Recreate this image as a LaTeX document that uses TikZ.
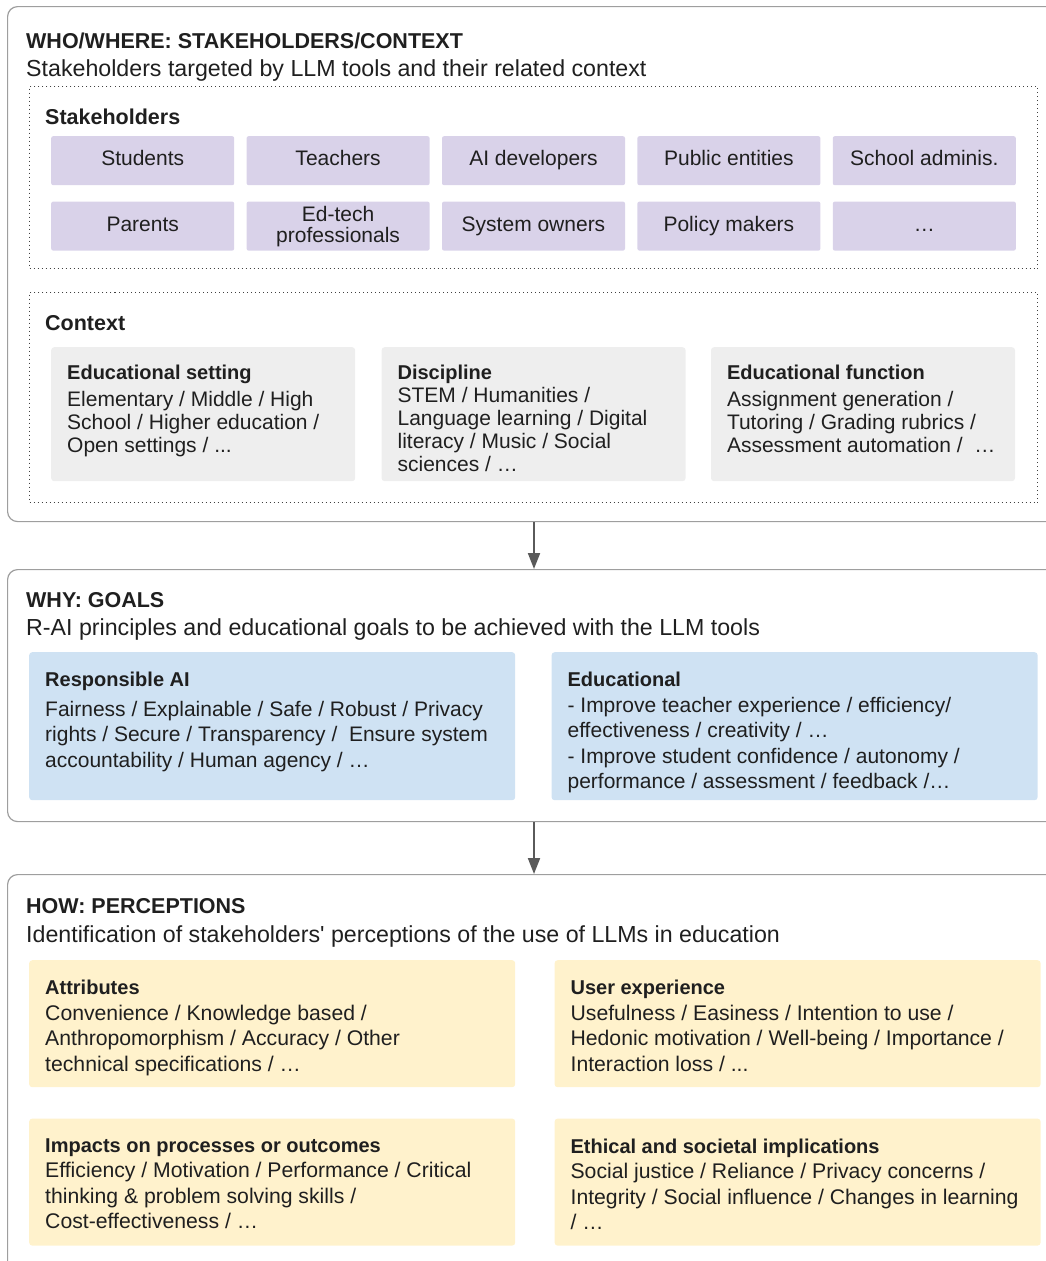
\documentclass[tikz,border=0pt]{standalone}
\usepackage{fontspec}
\setmainfont{Liberation Sans}
\usetikzlibrary{positioning,arrows.meta}
\definecolor{stkpurple}{HTML}{D9D2E9}
\definecolor{ctxgray}{HTML}{EEEEEE}
\definecolor{goalblue}{HTML}{CFE2F3}
\definecolor{percyellow}{HTML}{FFF2CC}
\definecolor{framegray}{HTML}{9E9E9E}
\definecolor{arrowgray}{HTML}{5A5A5A}
\definecolor{inkblack}{HTML}{1F1F1F}
\newcommand{\BoxTitle}[1]{{\fontsize{20}{24}\selectfont\bfseries #1}}

\begin{document}
\begin{tikzpicture}[
    x=1pt, y=-1pt,
    every node/.style={text=inkblack},
    Frame/.style={
        draw=framegray,
        line width=1.2pt,
        rounded corners=10pt,
        anchor=north west,
        inner sep=0pt,
        minimum width=1058pt
    },
    Area/.style={
        draw=black!75,
        line width=1pt,
        dash pattern=on 1pt off 3pt,
        anchor=north west,
        inner sep=0pt,
        minimum width=1008pt
    },
    Head/.style={
        anchor=base west,
        inner sep=0pt,
        font=\fontsize{21.5}{25}\selectfont\bfseries
    },
    Sub/.style={
        anchor=base west,
        inner sep=0pt,
        font=\fontsize{23.2}{25}\selectfont
    },
    SBox/.style={
        fill=stkpurple,
        rounded corners=2pt,
        minimum width=183pt,
        minimum height=49pt,
        inner sep=2pt,
        text height=15pt,
        text depth=5pt,
        align=center,
        font=\fontsize{21}{21}\selectfont
    },
    CBox/.style={
        fill=ctxgray,
        rounded corners=3pt,
        minimum width=304pt,
        minimum height=134pt,
        inner xsep=16pt,
        inner ysep=18pt,
        font=\fontsize{21}{23}\selectfont,
        execute at begin node={\begin{minipage}[t][98pt][t]{272pt}\raggedright},
        execute at end node={\end{minipage}}
    },
    GBox/.style={
        fill=goalblue,
        rounded corners=3pt,
        minimum width=486pt,
        minimum height=148pt,
        inner xsep=16pt,
        inner ysep=20pt,
        font=\fontsize{21}{25.5}\selectfont,
        execute at begin node={\begin{minipage}[t][108pt][t]{454pt}\raggedright},
        execute at end node={\end{minipage}}
    },
    PBox/.style={
        fill=percyellow,
        rounded corners=3pt,
        minimum width=486pt,
        minimum height=127pt,
        inner xsep=16pt,
        inner ysep=20pt,
        font=\fontsize{21.2}{25.5}\selectfont,
        execute at begin node={\begin{minipage}[t][87pt][t]{454pt}\raggedright},
        execute at end node={\end{minipage}}
    },
    Flow/.style={
        draw=arrowgray,
        line width=2pt,
        -{Triangle[length=16pt,width=12pt]}
    }
    ]
    \useasboundingbox (0,0) rectangle (1045,1261);

    \node[Frame,minimum height=515pt] (who) at (7,6) {};
    \node[Frame,minimum height=252pt] (why) at (7,569) {};
    \node[Frame,minimum height=406pt] (how) at (7,874) {};

    \node[Head] (whohead) at (26,48) {WHO/WHERE: STAKEHOLDERS/CONTEXT};
    \node[Sub] (whosub) at (26,76) {Stakeholders targeted by LLM tools and their related context};

    \node[Area,minimum height=182pt] (stkarea) at (29,86) {};
    \node[Head] (stkhead) at (45,124) {Stakeholders};
    \node[SBox,anchor=north west] (students) at (51,136) {Students};
    \node[SBox] (teachers) [right=12pt of students] {Teachers};
    \node[SBox] (aidev) [right=12pt of teachers] {AI developers};
    \node[SBox] (public) [right=12pt of aidev] {Public entities};
    \node[SBox] (admins) [right=12pt of public] {School adminis.};
    \node[SBox] (parents) [below=16pt of students] {Parents};
    \node[SBox,text height={},text depth={}] (edtech) [right=12pt of parents] {Ed-tech\\professionals};
    \node[SBox] (owners) [right=12pt of edtech] {System owners};
    \node[SBox] (policy) [right=12pt of owners] {Policy makers};
    \node[SBox] (morestk) [right=12pt of policy] {…};

    \node[Area,minimum height=210pt] (ctxarea) at (29,292) {};
    \node[Head] (ctxhead) at (45,330) {Context};
    \node[CBox,anchor=north west] (setting) at (51,347) {\BoxTitle{Educational setting}\\[4pt]Elementary / Middle / High\\School / Higher education /\\Open settings / ...};
    \node[CBox] (discipline) [right=26pt of setting] {\BoxTitle{Discipline}\\STEM / Humanities /\\Language learning / Digital\\literacy / Music / Social\\sciences / …};
    \node[CBox] (function) [right=25pt of discipline] {\BoxTitle{Educational function}\\[4pt]Assignment generation /\\Tutoring / Grading rubrics /\\Assessment automation /\ \ …};

    \node[Head] (whyhead) at (26,607) {WHY: GOALS};
    \node[Sub] (whysub) at (26,635) {R-AI principles and educational goals to be achieved with the LLM tools};
    \node[GBox,anchor=north west] (rai) at (29,652) {\BoxTitle{Responsible AI}\\[4pt]Fairness / Explainable / Safe / Robust / Privacy\\rights / Secure / Transparency /\ \ Ensure system\\accountability / Human agency / …};
    \node[GBox] (edugoal) [right=36pt of rai] {\BoxTitle{Educational}\\- Improve teacher experience / efficiency/\\effectiveness / creativity / …\\- Improve student confidence / autonomy /\\performance / assessment / feedback /…};

    \node[Head] (howhead) at (26,913) {HOW: PERCEPTIONS};
    \node[Sub] (howsub) at (26,942) {Identification of stakeholders\textquotesingle{} perceptions of the use of LLMs in education};
    \node[PBox,anchor=north west] (attrib) at (29,960) {\BoxTitle{Attributes}\\Convenience / Knowledge based /\\Anthropomorphism / Accuracy / Other\\technical specifications / …};
    \node[PBox] (userexp) [right=39pt of attrib] {\BoxTitle{User experience}\\Usefulness / Easiness / Intention to use /\\Hedonic motivation / Well-being / Importance /\\Interaction loss / ...};
    \node[PBox] (impacts) [below=31pt of attrib] {\BoxTitle{Impacts on processes or outcomes}\\Efficiency / Motivation / Performance / Critical\\thinking \& problem solving skills /\\Cost-effectiveness / …};
    \node[PBox] (ethics) [below=31pt of userexp] {\BoxTitle{Ethical and societal implications}\\Social justice / Reliance / Privacy concerns /\\Integrity / Social influence / Changes in learning\\/ …};

    \coordinate (arrx) at (534,0);
    \draw[Flow] (arrx |- who.south) -- (arrx |- why.north);
    \draw[Flow] (arrx |- why.south) -- (arrx |- how.north);
\end{tikzpicture}
\end{document}
